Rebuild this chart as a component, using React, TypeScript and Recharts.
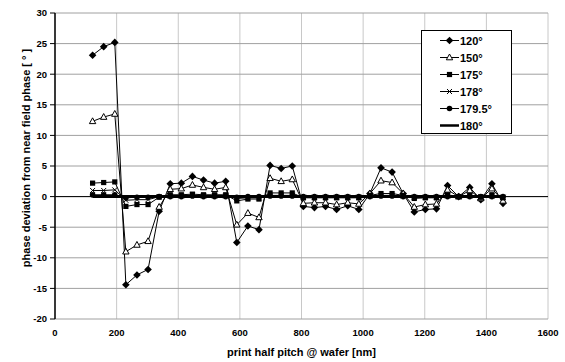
import React from "react";
import { LineChart, Line, XAxis, YAxis, CartesianGrid, Legend, ReferenceLine } from "recharts";

// print half pitch @ wafer [nm]
const halfPitch = [
  122, 158, 194, 230, 266, 302, 338, 374, 410, 446, 482, 518, 554, 590, 626, 662, 698, 734, 770,
  806, 842, 878, 914, 950, 986, 1022, 1058, 1094, 1130, 1166, 1202, 1238, 1274, 1310, 1346, 1382, 1418, 1454,
];

// phase deviation [deg] per near field phase
const phase120 = [
  23.1, 24.5, 25.2, -14.4, -12.8, -11.9, -2.4, 2.1, 2.2, 3.3, 2.7, 2.2, 2.5, -7.5, -4.8, -5.4, 5.1, 4.6, 5.0,
  -1.6, -1.8, -1.6, -2.1, -1.5, -2.1, 0.5, 4.7, 4.0, 0.5, -2.5, -2.1, -2.0, 1.8, 0.0, 1.5, -0.5, 2.1, -1.1,
];
const phase150 = [
  12.3, 13.0, 13.5, -9.0, -7.9, -7.3, -1.7, 1.2, 1.3, 1.9, 1.5, 1.2, 1.5, -4.6, -2.7, -3.4, 3.0, 2.5, 2.8,
  -1.1, -1.0, -1.0, -1.3, -1.0, -1.2, 0.5, 2.6, 2.3, 0.5, -1.7, -1.3, -1.2, 1.1, 0.0, 1.0, -0.3, 1.3, -0.7,
];
const phase175 = [
  2.2, 2.3, 2.4, -1.6, -1.3, -1.3, -0.1, 0.3, 0.3, 0.4, 0.3, 0.3, 0.3, -0.7, -0.4, -0.4, 0.6, 0.6, 0.6,
  -0.2, -0.2, -0.2, -0.2, -0.2, -0.2, 0.2, 0.5, 0.5, 0.2, -0.3, -0.2, -0.2, 0.3, 0.0, 0.2, -0.1, 0.3, -0.2,
];
const phase178 = [
  1.0, 1.0, 1.1, -0.6, -0.5, -0.5, 0.0, 0.1, 0.1, 0.2, 0.1, 0.1, 0.1, -0.3, -0.2, -0.2, 0.2, 0.2, 0.2,
  -0.1, -0.1, -0.1, -0.1, -0.1, -0.1, 0.1, 0.2, 0.2, 0.1, -0.1, -0.1, -0.1, 0.1, 0.0, 0.1, 0.0, 0.1, -0.1,
];
const phase179_5 = [
  0.3, 0.3, 0.3, -0.2, -0.1, -0.1, 0.0, 0.0, 0.0, 0.1, 0.0, 0.0, 0.0, -0.1, 0.0, 0.0, 0.1, 0.1, 0.1,
  0.0, 0.0, 0.0, 0.0, 0.0, 0.0, 0.0, 0.1, 0.1, 0.0, 0.0, 0.0, 0.0, 0.0, 0.0, 0.0, 0.0, 0.0, 0.0,
];
const phase180 = [
  0, 0, 0, 0, 0, 0, 0, 0, 0, 0, 0, 0, 0, 0, 0, 0, 0, 0, 0,
  0, 0, 0, 0, 0, 0, 0, 0, 0, 0, 0, 0, 0, 0, 0, 0, 0, 0, 0,
];

const xTicks = [0, 200, 400, 600, 800, 1000, 1200, 1400, 1600];
const yTicks = [-20, -15, -10, -5, 0, 5, 10, 15, 20, 25, 30];

const data = halfPitch.map((x, i) => ({
  x,
  p120: phase120[i],
  p150: phase150[i],
  p175: phase175[i],
  p178: phase178[i],
  p179_5: phase179_5[i],
  p180: phase180[i],
}));

type MarkerKind = "diamond" | "triangle" | "square" | "cross" | "circle" | "none";

const series: { key: string; name: string; marker: MarkerKind; width: number }[] = [
  { key: "p120", name: "120°", marker: "diamond", width: 1 },
  { key: "p150", name: "150°", marker: "triangle", width: 1 },
  { key: "p175", name: "175°", marker: "square", width: 1 },
  { key: "p178", name: "178°", marker: "cross", width: 1 },
  { key: "p179_5", name: "179.5°", marker: "circle", width: 1 },
  { key: "p180", name: "180°", marker: "none", width: 3 },
];

const FONT = "Arial, 'Liberation Sans', sans-serif";

function Marker({ cx, cy, kind }: { cx: number; cy: number; kind: MarkerKind }) {
  if (cx == null || cy == null) return <g />;
  switch (kind) {
    case "diamond":
      return <path d={`M${cx},${cy - 3.8} L${cx + 3.8},${cy} L${cx},${cy + 3.8} L${cx - 3.8},${cy} Z`} fill="#000" />;
    case "triangle":
      return (
        <path
          d={`M${cx},${cy - 3.5} L${cx + 3.2},${cy + 2.3} L${cx - 3.2},${cy + 2.3} Z`}
          fill="#fff"
          stroke="#000"
          strokeWidth={1}
        />
      );
    case "square":
      return <rect x={cx - 2.6} y={cy - 2.6} width={5.2} height={5.2} fill="#000" />;
    case "cross":
      return (
        <path
          d={`M${cx - 2.5},${cy - 2.5} L${cx + 2.5},${cy + 2.5} M${cx + 2.5},${cy - 2.5} L${cx - 2.5},${cy + 2.5}`}
          stroke="#000"
          strokeWidth={1}
        />
      );
    case "circle":
      return <circle cx={cx} cy={cy} r={2.8} fill="#000" />;
    default:
      return <g />;
  }
}

const LegendBox = () => (
  <div
    style={{
      border: "1px solid #000",
      background: "#fff",
      width: 91,
      height: 104,
      boxSizing: "border-box",
      paddingTop: 1,
    }}
  >
    {series.map((s) => (
      <div key={s.key} style={{ height: 17, display: "flex", alignItems: "center" }}>
        <svg width={38} height={17} style={{ display: "block" }}>
          <line x1={18} x2={37} y1={8.5} y2={8.5} stroke="#000" strokeWidth={s.width === 1 ? 1 : 2.5} />
          <Marker cx={27.5} cy={8.5} kind={s.marker} />
        </svg>
        <span style={{ fontFamily: FONT, fontWeight: "bold", fontSize: 11, color: "#000" }}>{s.name}</span>
      </div>
    ))}
  </div>
);

const YTitle = (props: any) => {
  const vb = props.viewBox || { x: 10, y: 13, width: 45, height: 306 };
  const x = vb.x + 15.5;
  const y = vb.y + vb.height / 2 - 8;
  return (
    <text
      x={x}
      y={y}
      transform={`rotate(-90, ${x}, ${y})`}
      textAnchor="middle"
      dominantBaseline="central"
      style={{ fontFamily: FONT, fontWeight: "bold", fontSize: 11, fill: "#000" }}
    >
      phase deviation from near field phase [ ° ]
    </text>
  );
};

const XTitle = (props: any) => {
  const vb = props.viewBox || { x: 55, y: 319, width: 493, height: 43 };
  return (
    <text
      x={vb.x + vb.width / 2}
      y={vb.y + 37}
      textAnchor="middle"
      style={{ fontFamily: FONT, fontWeight: "bold", fontSize: 11, fill: "#000" }}
    >
      print half pitch @ wafer [nm]
    </text>
  );
};

export default function App() {
  const tickStyle = { fontFamily: FONT, fontWeight: "bold" as const, fontSize: 9.5, fill: "#000" };
  return (
    <div style={{ position: "absolute", left: 0, top: 0, width: 565, height: 362, background: "#fff" }}>
      <LineChart width={565} height={362} data={data} margin={{ top: 13, right: 17, bottom: 0, left: 10 }}>
        <CartesianGrid horizontal={false} stroke="#c8c8c8" strokeWidth={1} />
        <CartesianGrid vertical={false} stroke="#a0a0a0" strokeWidth={1} />
        <XAxis
          dataKey="x"
          type="number"
          domain={[0, 1600]}
          ticks={xTicks}
          interval={0}
          height={43}
          axisLine={false}
          tickLine={false}
          tickSize={0}
          tickMargin={10}
          tick={tickStyle}
          label={<XTitle />}
        />
        <YAxis
          type="number"
          domain={[-20, 30]}
          ticks={yTicks}
          interval={0}
          width={45}
          axisLine={{ stroke: "#000", strokeWidth: 1.5 }}
          tickLine={{ stroke: "#000" }}
          tickSize={5}
          tickMargin={3}
          tick={tickStyle}
          label={<YTitle />}
        />
        <ReferenceLine y={0} stroke="#000" strokeWidth={1} />
        {series.map((s) => (
          <Line
            key={s.key}
            type="linear"
            dataKey={s.key}
            name={s.name}
            stroke="#000"
            strokeWidth={s.width}
            isAnimationActive={false}
            activeDot={false}
            dot={
              s.marker === "none"
                ? false
                : (p: any) => <Marker key={`${s.key}-${p.index}`} cx={p.cx} cy={p.cy} kind={s.marker} />
            }
          />
        ))}
        <Legend
          layout="vertical"
          align="center"
          verticalAlign="middle"
          content={() => <LegendBox />}
          wrapperStyle={{ position: "absolute", left: 421, top: 30, width: 91, height: 104 }}
        />
      </LineChart>
    </div>
  );
}
